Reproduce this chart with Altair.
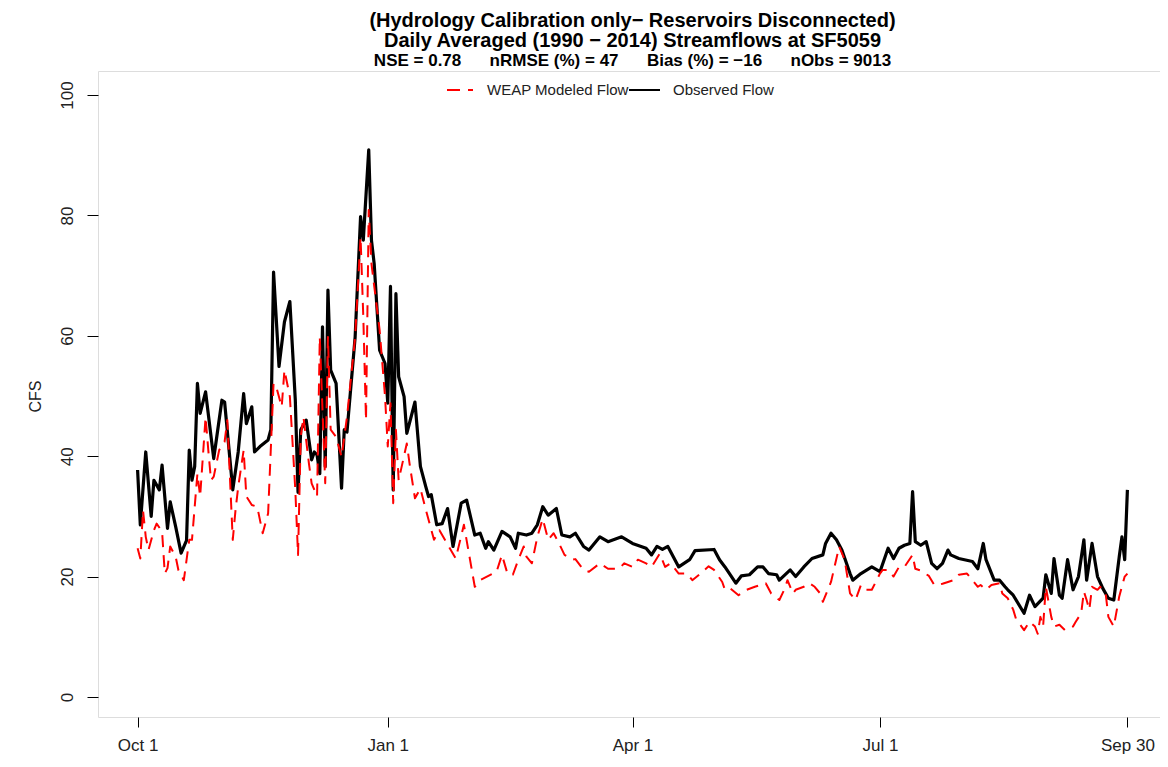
import altair as alt
import pandas as pd

# ---- data (day index from Oct 1, flow in CFS) ----
obs_day = [0, 1, 3, 5, 6, 8, 9, 11, 12, 14, 16, 18, 19, 20, 21, 22, 23, 25, 28, 31,
           32, 35, 37, 39, 40, 42, 43, 45, 48, 49, 50, 52, 54, 56, 58, 59, 60, 62, 64, 65,
           66, 67, 68, 69, 70, 71, 73, 75, 76, 77, 80, 82, 83, 85, 86, 87, 89, 91, 92, 93,
           94, 95, 96, 98, 99, 102, 104, 106, 107, 108, 110, 112, 114, 116, 119, 121, 124, 126, 128, 129,
           131, 134, 137, 139, 140, 143, 145, 147, 149, 151, 154, 156, 159, 161, 164, 166, 170, 173, 178, 182,
           187, 189, 191, 193, 195, 197, 199, 203, 205, 212, 214, 216, 220, 222, 225, 228, 230, 232, 235, 236,
           240, 242, 245, 248, 252, 253, 255, 257, 259, 262, 263, 266, 270, 273, 276, 278, 280, 282, 284, 285,
           286, 288, 290, 292, 294, 296, 298, 299, 302, 307, 309, 311, 312, 315, 317, 319, 320, 322, 326, 328,
           330, 333, 334, 336, 337, 339, 340, 342, 344, 346, 348, 349, 351, 353, 355, 357, 359, 361, 362, 363,
           364]
obs_cfs = [37.7, 28.6, 40.7, 30.0, 36.0, 34.4, 38.5, 28.0, 32.4, 28.3, 23.9, 26.0, 41.0, 36.0, 38.3, 52.1, 47.1, 50.7, 39.6, 49.3,
           49.0, 34.4, 40.7, 50.4, 45.4, 48.2, 40.7, 41.6, 42.7, 44.4, 70.6, 54.9, 62.3, 65.7, 49.3, 34.0, 44.4, 46.0, 39.4, 40.7,
           40.2, 37.1, 61.5, 38.3, 67.6, 54.3, 52.1, 34.7, 44.4, 44.0, 59.8, 79.8, 75.9, 90.9, 75.9, 72.0, 57.6, 55.4, 48.8, 68.2,
           34.4, 67.0, 53.2, 49.9, 43.8, 49.0, 38.3, 34.9, 33.3, 33.6, 28.6, 28.8, 31.3, 25.0, 32.2, 32.7, 26.9, 27.2, 24.7, 25.8,
           24.4, 27.5, 26.6, 24.7, 27.2, 26.9, 27.2, 28.6, 31.6, 30.2, 31.3, 26.9, 26.6, 27.2, 25.0, 24.4, 26.6, 25.8, 26.6, 25.5,
           24.7, 23.6, 25.0, 24.5, 25.0, 23.3, 21.6, 22.8, 24.3, 24.5, 22.8, 21.6, 18.9, 20.1, 20.3, 21.6, 21.6, 20.5, 20.3, 19.4,
           21.1, 20.0, 21.6, 23.0, 23.6, 25.5, 27.2, 26.1, 24.4, 20.5, 19.4, 20.5, 21.6, 20.8, 24.7, 23.0, 24.7, 25.2, 25.5, 34.1,
           25.8, 25.2, 25.8, 22.2, 21.3, 22.2, 24.4, 23.6, 23.0, 22.5, 21.3, 25.5, 22.8, 19.4, 19.4, 18.3, 17.8, 16.9, 13.9, 16.9,
           15.0, 16.4, 20.3, 17.2, 23.0, 16.9, 16.4, 22.8, 17.8, 20.0, 26.1, 19.4, 25.5, 20.0, 18.0, 16.4, 16.1, 23.3, 26.6, 22.8,
           34.4]

mod_day = [0, 1, 2, 3, 4, 6, 7, 9, 10, 11, 12, 14, 15, 17, 19, 20, 22, 23, 25, 26,
           27, 28, 30, 32, 33, 35, 36, 37, 39, 40, 42, 44, 46, 48, 50, 51, 53, 54, 56, 58,
           59, 60, 61, 63, 64, 66, 67, 69, 70, 71, 73, 75, 77, 80, 82, 83, 84, 85, 86, 89,
           91, 92, 93, 94, 95, 96, 99, 100, 102, 104, 106, 109, 111, 117, 120, 124, 126, 132, 134, 136,
           138, 140, 142, 143, 145, 147, 149, 151, 153, 155, 157, 160, 161, 164, 166, 170, 173, 177, 179, 182,
           184, 187, 189, 192, 194, 196, 199, 202, 204, 207, 210, 212, 215, 216, 218, 221, 224, 227, 231, 233,
           236, 238, 239, 241, 242, 245, 247, 249, 251, 252, 255, 257, 258, 260, 261, 262, 264, 266, 268, 270,
           273, 274, 276, 278, 280, 282, 285, 286, 288, 291, 293, 294, 296, 298, 300, 302, 305, 307, 309, 310,
           312, 314, 317, 318, 320, 322, 323, 326, 328, 330, 331, 332, 333, 334, 336, 337, 339, 341, 344, 345,
           347, 348, 349, 350, 351, 353, 354, 356, 357, 359, 361, 363, 364]
mod_cfs = [24.7, 23.0, 31.0, 26.6, 24.4, 27.7, 28.8, 27.5, 20.5, 21.4, 25.0, 23.3, 21.1, 19.4, 26.1, 26.1, 37.1, 33.3, 46.5, 41.0,
           36.0, 36.6, 41.0, 42.4, 46.0, 26.1, 31.0, 34.9, 41.0, 33.3, 31.9, 31.6, 27.2, 30.5, 52.1, 51.5, 48.2, 54.3, 49.9, 34.4,
           23.6, 43.2, 46.5, 38.8, 35.5, 33.3, 59.8, 35.5, 59.8, 44.4, 43.2, 39.9, 46.5, 59.8, 76.4, 63.2, 46.0, 80.9, 72.0, 61.0,
           49.9, 41.6, 48.8, 32.2, 44.4, 36.0, 42.1, 38.8, 33.0, 34.6, 31.1, 26.1, 27.7, 23.0, 28.6, 18.3, 19.4, 20.8, 23.6, 20.5,
           20.3, 22.8, 25.0, 23.3, 22.2, 26.6, 29.6, 26.1, 27.2, 25.5, 23.6, 22.8, 22.9, 21.1, 20.8, 22.2, 21.3, 21.3, 22.2, 21.6,
           22.8, 22.2, 21.6, 23.8, 21.6, 22.2, 20.5, 20.5, 19.4, 20.5, 21.7, 21.1, 19.1, 17.8, 18.0, 16.9, 17.8, 18.3, 18.9, 17.2,
           16.1, 18.0, 19.4, 17.2, 17.8, 18.3, 18.9, 18.3, 17.2, 15.8, 19.1, 23.0, 25.0, 22.8, 20.0, 17.2, 16.1, 18.6, 17.8, 17.8,
           20.5, 21.1, 21.1, 20.0, 21.6, 21.6, 23.6, 21.3, 21.0, 20.1, 18.6, 18.6, 18.8, 19.1, 19.4, 20.3, 20.5, 19.4, 18.3, 18.6,
           17.8, 18.6, 18.9, 17.2, 16.4, 14.5, 13.0, 11.1, 12.5, 11.7, 10.5, 13.3, 11.7, 18.3, 13.3, 11.7, 12.0, 11.1, 11.7, 12.5,
           13.9, 17.5, 16.1, 14.5, 18.3, 17.8, 18.3, 17.2, 13.3, 11.7, 16.7, 20.0, 20.5]

tick_days = [0, 92, 182, 273, 364]
tick_labels = ["Oct 1", "Jan 1", "Apr 1", "Jul 1", "Sep 30"]
y_ticks = [0, 20, 40, 60, 80, 100]

title_lines = [
    "(Hydrology Calibration only\u2212 Reservoirs Disconnected)",
    "Daily Averaged (1990 \u2212 2014) Streamflows at SF5059",
]
gap = "\u00a0" * 6
stats_line = gap.join(["NSE = 0.78", "nRMSE (%) = 47", "Bias (%) = \u221216", "nObs = 9013"])
legend_labels = ["WEAP Modeled Flow", "Observed Flow"]

# ---- chart ----
FONT = "Liberation Sans"
PX_DAY = 1069 / (364 * 1.08)      # pixels per day
PX_CFS = 650 / 108.0              # pixels per CFS
W, H = 1062, 646
x_min = -0.04 * 364
x_dom = [x_min, x_min + W / PX_DAY]
y_dom = [104 - H / PX_CFS, 104]
CX = (364 / 2 - x_min) * PX_DAY   # horizontal centre of the full R plot region

label_expr = " : ".join(
    f"datum.value == {d} ? '{l}'" for d, l in zip(tick_days, tick_labels)
) + " : ''"

x_enc = alt.X("day:Q", scale=alt.Scale(domain=x_dom, nice=False, zero=False),
              axis=alt.Axis(values=tick_days, labelExpr=label_expr, title=None, grid=False,
                            domain=False, ticks=True, tickSize=10, tickColor="black",
                            labelFont=FONT, labelFontSize=17, labelColor="#222",
                            labelPadding=10, labelAngle=0, labelFlush=False))
y_enc = alt.Y("cfs:Q", scale=alt.Scale(domain=y_dom, nice=False, zero=False),
              axis=alt.Axis(values=y_ticks, title="CFS", grid=False, domain=False,
                            tickSize=11, tickColor="black", labelFont=FONT, labelFontSize=17,
                            labelColor="#222", labelAngle=-90, labelAlign="center",
                            labelBaseline="bottom", labelPadding=11, labelFlush=False,
                            titleFont=FONT, titleFontSize=16, titleFontWeight="normal",
                            titleColor="#222", titleX=-63, titleY=325, titleAngle=-90,
                            titleAlign="center", titleBaseline="middle"))

obs_df = pd.DataFrame({"day": obs_day, "cfs": obs_cfs})
mod_df = pd.DataFrame({"day": mod_day, "cfs": mod_cfs})

obs_line = alt.Chart(obs_df).mark_line(color="black", strokeWidth=3.2, strokeJoin="round").encode(
    x=x_enc, y=y_enc)
mod_line = alt.Chart(mod_df).mark_line(color="#ff0000", strokeWidth=2, strokeDash=[12, 8],
                                       strokeJoin="round").encode(x=x_enc, y=y_enc)

one = pd.DataFrame({"k": [0]})
leg_red = alt.Chart(one).mark_rule(color="#ff0000", strokeWidth=2, strokeDash=[13, 8]).encode(
    x=alt.value(349), x2=alt.value(375), y=alt.value(19))
leg_red_txt = alt.Chart(one).mark_text(align="left", baseline="middle", font=FONT, fontSize=15,
                                       color="#222").encode(
    x=alt.value(389), y=alt.value(19), text=alt.value(legend_labels[0]))
leg_blk = alt.Chart(one).mark_rule(color="black", strokeWidth=2).encode(
    x=alt.value(531), x2=alt.value(562), y=alt.value(19))
leg_blk_txt = alt.Chart(one).mark_text(align="left", baseline="middle", font=FONT, fontSize=15,
                                       color="#222").encode(
    x=alt.value(575), y=alt.value(19), text=alt.value(legend_labels[1]))

t1 = alt.Chart(one).mark_text(align="center", baseline="middle", font=FONT, fontSize=20,
                              fontWeight="bold", color="black").encode(
    x=alt.value(CX), y=alt.value(-50), text=alt.value(title_lines[0]))
t2 = alt.Chart(one).mark_text(align="center", baseline="middle", font=FONT, fontSize=20,
                              fontWeight="bold", color="black").encode(
    x=alt.value(CX), y=alt.value(-30), text=alt.value(title_lines[1]))
t3 = alt.Chart(one).mark_text(align="center", baseline="middle", font=FONT, fontSize=17,
                              fontWeight="bold", color="black").encode(
    x=alt.value(CX), y=alt.value(-10), text=alt.value(stats_line))

chart = alt.layer(obs_line, mod_line, leg_red, leg_red_txt, leg_blk, leg_blk_txt, t1, t2, t3).properties(
    width=W, height=H,
    autosize=alt.AutoSizeParams(type="none"),
    padding={"left": 90, "top": 63, "right": 0, "bottom": 38},
).configure_view(stroke="black", strokeWidth=1.2).configure(background="white")

chart.save("out.html", embed_options={"renderer": "svg", "actions": False})
